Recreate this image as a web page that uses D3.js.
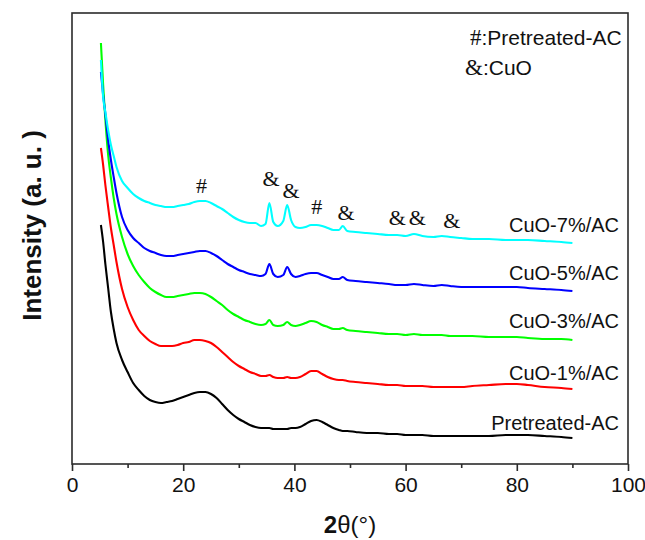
<!DOCTYPE html>
<html>
<head>
<meta charset="utf-8">
<script src="https://cdn.jsdelivr.net/npm/d3@7"></script>
<style>
  html, body { margin: 0; padding: 0; background: #fff; }
  svg { display: block; }
</style>
</head>
<body>
<svg id="chart" width="645" height="540"></svg>
<script>
// 2θ sampling positions (degrees) shared by all patterns
const twoTheta = [5.2, 5.6, 6, 6.5, 7, 7.5, 8, 9, 10, 11, 12, 13, 14, 15, 16, 17, 18, 19, 20, 21, 22, 23, 24, 25, 26, 27, 28, 29, 30, 31, 32, 33, 34, 34.8, 35.5, 36.2, 37, 38, 38.7, 39.4, 40.2, 41, 42, 43, 44, 45, 46, 47, 48, 48.7, 49.5, 51, 53, 55, 57, 58.5, 60, 61.5, 63, 65, 66.5, 68, 70, 72, 75, 78, 80, 82, 85, 88, 90];

// Stacked XRD intensities (a. u., offset per sample)
const cuo7 = [404,367,352,334,319,308,297, 283,276,270,266,263,261,259,258,257,257,258,259,260,262,263,263,261,258,255,251,247,244,242,241,241, 238,240,261,242,238,243,259,244,237,236,237,239,239,238,236,234,234,238,233, 232,231,230,229,229,228,230,228,227,228,227,226,225,225,224,224,224,223,222,221];
const cuo5 = [392,369,350,324,304,287,271, 247,234,226,221,216,213,211,209,208,208,209,210,211,212,213,213,211,208,204,200,197,194,192,190,189, 188,190,200,190,187,189,197,190,187,188,190,191,191,189,187,185,185,187,184, 183,182,181,180,179,179,180,179,178,179,178,177,177,177,177,177,176,175,174,173];
const cuo3 = [421,379,344,309,286,266,250, 227,210,198,189,182,176,172,169,167,167,168,169,170,171,171,170,167,163,159,154,150,147,144,142,140, 139,140,144,139,138,139,142,139,138,139,141,143,142,139,137,135,135,136,134, 133,132,131,130,130,129,130,129,129,129,128,128,128,127,127,127,126,125,125,124];
const cuo1 = [316,299,279,257,236,219,202, 175,157,144,134,128,123,120,118,118,118,119,121,122,124,124,123,121,117,112,107,102,98,95,92,90, 88,88,89,87,86,86,87,86,86,87,90,93,93,90,87,85,84,84,83, 82,81,80,79,79,78,78,78,77,77,77,77,78,79,80,80,79,77,76,75];
const pretreated = [239,222,200,176,152,135,121, 104,92,81,74,68,64,62,61,62,63,65,67,69,71,72,72,70,66,60,54,49,45,42,39,37, 36,36,36,35,35,35,35,36,36,37,40,43,44,42,39,36,34,33,33, 32,31,31,30,30,29,29,29,28,28,28,28,28,28,29,29,29,28,27,26];

const seriesNames = ["CuO-7%/AC", "CuO-5%/AC", "CuO-3%/AC", "CuO-1%/AC", "Pretreated-AC"];
const seriesValues = [cuo7, cuo5, cuo3, cuo1, pretreated];
const seriesColors = ["#00ffff", "#0000ff", "#00ff00", "#ff0000", "#000000"];
// label baseline level for each pattern, in intensity units
const labelLevels = [232, 184, 136, 84, 34];

// diffraction peak markers: [2θ, intensity level, symbol]
const peakMarks = [
  [23.3, 271, "#"],
  [35.8, 278, "&"],
  [39.4, 266, "&"],
  [44.0, 250, "#"],
  [49.3, 244, "&"],
  [58.5, 239, "&"],
  [62.1, 239, "&"],
  [68.3, 236, "&"]
];

const xTicks = [0, 20, 40, 60, 80, 100];
const xMinorTicks = [10, 30, 50, 70, 90];

const svg = d3.select("#chart");
const plotLeft = 72, plotRight = 628, plotTop = 13, plotBottom = 464;

const x = d3.scaleLinear().domain([0, 100]).range([plotLeft, plotRight]);
const y = d3.scaleLinear().domain([0, 451]).range([plotBottom, plotTop]);

const line = d3.line()
  .x(d => x(d[0]))
  .y(d => y(d[1]))
  .curve(d3.curveMonotoneX);

// patterns, bottom first so upper traces sit on top
seriesValues.map((vals, i) => ({ vals, i })).reverse().forEach(({ vals, i }) => {
  svg.append("path")
    .datum(twoTheta.map((t, k) => [t, vals[k]]))
    .attr("fill", "none")
    .attr("stroke", seriesColors[i])
    .attr("stroke-width", 2.1)
    .attr("stroke-linejoin", "round")
    .attr("d", line);
});

// frame
svg.append("rect")
  .attr("x", plotLeft).attr("y", plotTop)
  .attr("width", plotRight - plotLeft).attr("height", plotBottom - plotTop)
  .attr("fill", "none").attr("stroke", "#2b2b2b").attr("stroke-width", 1.6);

// bottom axis
const xAxis = d3.axisBottom(x).tickValues(xTicks).tickSize(7).tickPadding(6).tickFormat(d3.format("d"));
const gx = svg.append("g").attr("transform", `translate(0,${plotBottom})`).call(xAxis);
gx.select(".domain").remove();
gx.selectAll(".tick line").attr("stroke", "#2b2b2b").attr("stroke-width", 1.6);
gx.selectAll(".tick text")
  .attr("font-family", "Liberation Sans, Arial, sans-serif")
  .attr("font-size", 21).attr("fill", "#111");

const gxm = svg.append("g").attr("transform", `translate(0,${plotBottom})`)
  .call(d3.axisBottom(x).tickValues(xMinorTicks).tickSize(4).tickFormat(""));
gxm.select(".domain").remove();
gxm.selectAll(".tick line").attr("stroke", "#2b2b2b").attr("stroke-width", 1.6);

// axis titles
const xt = svg.append("text")
  .attr("x", x(50)).attr("y", 533)
  .attr("text-anchor", "middle")
  .attr("font-family", "Liberation Sans, Arial, sans-serif")
  .attr("font-size", 24).attr("fill", "#111");
xt.append("tspan").attr("font-weight", "bold").text("2");
xt.append("tspan").text("θ(°)");

svg.append("text")
  .attr("transform", `translate(41,${(plotTop + plotBottom) / 2 - 13}) rotate(-90)`)
  .attr("text-anchor", "middle")
  .attr("font-family", "Liberation Sans, Arial, sans-serif")
  .attr("font-weight", "bold")
  .attr("font-size", 26).attr("fill", "#111")
  .text("Intensity (a. u. )");

// series labels
seriesNames.forEach((name, i) => {
  svg.append("text")
    .attr("x", 619).attr("y", y(labelLevels[i]))
    .attr("text-anchor", "end")
    .attr("font-family", "Liberation Sans, Arial, sans-serif")
    .attr("font-size", 20).attr("fill", "#111")
    .text(name);
});

// peak symbols
peakMarks.forEach(([t, lv, s]) => {
  svg.append("text")
    .attr("x", x(t)).attr("y", y(lv))
    .attr("text-anchor", "middle")
    .attr("font-family", "Liberation Serif, Times New Roman, serif")
    .attr("font-size", 22).attr("fill", "#111")
    .text(s);
});

// key for the symbols
const key = [["#", ":Pretreated-AC", 45], ["&", ":CuO", 75]];
key.forEach(([sym, txt, yy], i) => {
  const t = svg.append("text")
    .attr("x", i === 0 ? 470 : 465).attr("y", yy)
    .attr("font-size", 21).attr("fill", "#111");
  t.append("tspan").attr("font-family", "Liberation Serif, Times New Roman, serif").attr("font-size", 23).text(sym);
  t.append("tspan").attr("font-family", "Liberation Sans, Arial, sans-serif").text(txt);
});
</script>
</body>
</html>
